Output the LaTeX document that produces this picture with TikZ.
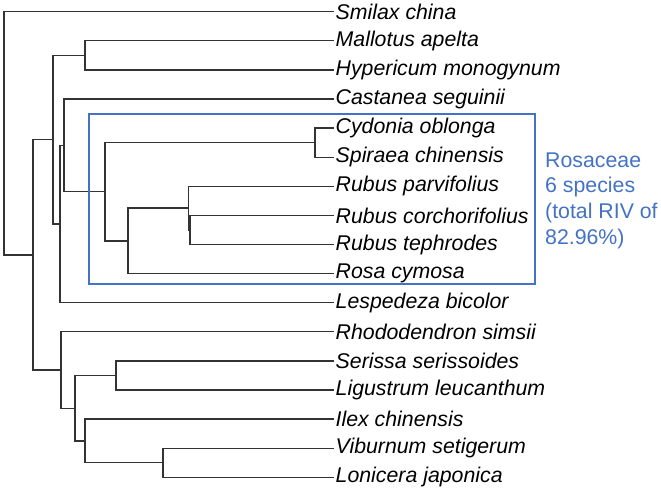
\documentclass[tikz,border=0pt]{standalone}
\usepackage{fontspec}
\setmainfont{Liberation Sans}
\usetikzlibrary{positioning}
\definecolor{rosblue}{RGB}{68,114,196}

\tikzset{sp/.style={anchor=west, inner sep=1.5pt, font=\fontsize{21.3}{25}\selectfont\itshape},
  br/.style={line width=1.35pt, black!80}}

\begin{document}
\begin{tikzpicture}[x=1pt, y=-1pt]
\useasboundingbox (0,0) rectangle (661,490);

% leaves
\node[sp] (smi) at (334,11.7) {Smilax china};
\node[sp] (mal) at (334,40.8) {Mallotus apelta};
\node[sp] (hyp) at (334,69.9) {Hypericum monogynum};
\node[sp] (cas) at (334,99.0) {Castanea seguinii};
\node[sp] (cyd) at (334,128.1) {Cydonia oblonga};
\node[sp] (spi) at (334,157.2) {Spiraea chinensis};
\node[sp] (rpa) at (334,186.3) {Rubus parvifolius};
\node[sp] (rco) at (334,215.4) {Rubus corchorifolius};
\node[sp] (rte) at (334,244.5) {Rubus tephrodes};
\node[sp] (rcy) at (334,273.6) {Rosa cymosa};
\node[sp] (les) at (334,302.7) {Lespedeza bicolor};
\node[sp] (rho) at (334,331.8) {Rhododendron simsii};
\node[sp] (ser) at (334,360.9) {Serissa serissoides};
\node[sp] (lig) at (334,390.0) {Ligustrum leucanthum};
\node[sp] (ile) at (334,419.1) {Ilex chinensis};
\node[sp] (vib) at (334,448.2) {Viburnum setigerum};
\node[sp] (lon) at (334,477.3) {Lonicera japonica};

% inner nodes
\coordinate (mh) at (85,55.35);
\coordinate (cs) at (315,142.65);
\coordinate (ct) at (190,229.95);
\coordinate (rb) at (188.7,208.1);
\coordinate (rr) at (128,240.85);
\coordinate (ro) at (105,191.75);
\coordinate (ca) at (64,145.4);
\coordinate (le) at (60,224.05);
\coordinate (up) at (53,139.7);
\coordinate (sl) at (116,375.45);
\coordinate (vl) at (163,462.75);
\coordinate (il) at (85,440.9);
\coordinate (si) at (75,408.2);
\coordinate (lo) at (61,370);
\coordinate (md) at (33,254.85);
\coordinate (rt) at (4,133.3);

\draw[br] (rt) |- (smi);
\draw[br] (rt) |- (md);
\draw[br] (md) |- (up);
\draw[br] (md) |- (lo);
\draw[br] (up) |- (mh);
\draw[br] (up) |- (le);
\draw[br] (mh) |- (mal);
\draw[br] (mh) |- (hyp);
\draw[br] (le) |- (ca);
\draw[br] (le) |- (les);
\draw[br] (ca) |- (cas);
\draw[br] (ca) |- (ro);
\draw[br] (ro) |- (cs);
\draw[br] (ro) |- (rr);
\draw[br] (cs) |- (cyd);
\draw[br] (cs) |- (spi);
\draw[br] (rr) |- (rb);
\draw[br] (rr) |- (rcy);
\draw[br] (rb) |- (rpa);
\draw[br] (rb) |- (ct);
\draw[br] (ct) |- (rco);
\draw[br] (ct) |- (rte);
\draw[br] (lo) |- (rho);
\draw[br] (lo) |- (si);
\draw[br] (si) |- (sl);
\draw[br] (si) |- (il);
\draw[br] (sl) |- (ser);
\draw[br] (sl) |- (lig);
\draw[br] (il) |- (ile);
\draw[br] (il) |- (vl);
\draw[br] (vl) |- (vib);
\draw[br] (vl) |- (lon);

% Rosaceae box
\draw[rosblue, line width=1.6pt] (89,114) rectangle (535,284);
\node[anchor=west, inner sep=0pt, align=left, text=rosblue,
  font=\fontsize{21.3}{25.7}\selectfont] (rosa) at (545,200.5)
  {Rosaceae\\6 species\\(total RIV of\\82.96\%)};
\end{tikzpicture}
\end{document}
